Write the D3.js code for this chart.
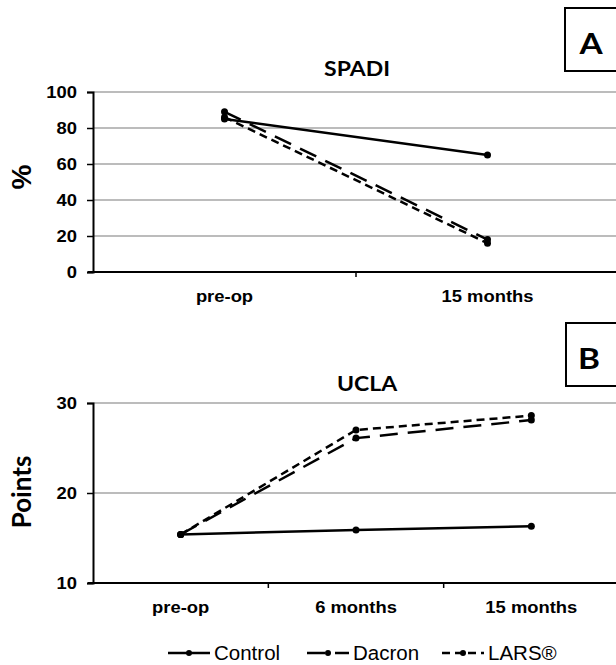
<!DOCTYPE html>
<html>
<head>
<meta charset="utf-8">
<script src="https://cdn.jsdelivr.net/npm/d3@7/dist/d3.min.js"></script>
<style>
  body { margin: 0; background: #fff; }
  svg { display: block; }
</style>
</head>
<body>
<div id="chart"></div>
<script>
// data
const spadiCats = ["pre-op", "15 months"];
const spadiControl = [85, 65];
const spadiDacron = [89, 18];
const spadiLars = [86, 16];
const spadiTicks = [0, 20, 40, 60, 80, 100];

const uclaCats = ["pre-op", "6 months", "15 months"];
const uclaControl = [15.4, 15.9, 16.3];
const uclaDacron = [15.4, 26.1, 28.1];
const uclaLars = [15.4, 27.0, 28.6];
const uclaTicks = [10, 20, 30];

const seriesNames = ["Control", "Dacron", "LARS®"];
const dashes = [null, "18,10", "8,5"];

const width = 616, height = 665;
const sx = 1.15; // the source figure is a bit stretched sideways

const svg = d3.select("#chart").append("svg")
    .attr("width", width)
    .attr("height", height);

// text helper, with the horizontal stretch
function label(g, x, y, txt, size, family, anchor) {
  return g.append("text")
    .attr("transform", "translate(" + x + "," + y + ") scale(" + sx + ",1)")
    .attr("text-anchor", anchor || "middle")
    .style("font-family", family)
    .style("font-weight", "bold")
    .style("font-size", size + "px")
    .text(txt);
}

function panel(cfg) {
  const g = svg.append("g");

  const x = d3.scaleBand().domain(cfg.cats).range([93, 619]);
  const y = d3.scaleLinear().domain(cfg.domain).range([cfg.bottom, cfg.top]);

  // gridlines
  g.append("g").selectAll("line")
    .data(cfg.ticks.slice(1))
    .enter().append("line")
    .attr("x1", 93).attr("x2", width)
    .attr("y1", d => y(d)).attr("y2", d => y(d))
    .style("stroke", "#a6a6a6")
    .style("stroke-width", 1.3);

  // y axis
  const ya = g.append("g")
    .attr("transform", "translate(93,0)")
    .call(d3.axisLeft(y).tickValues(cfg.ticks).tickSize(6).tickPadding(8));
  ya.select(".domain").style("stroke", "#000").style("stroke-width", 2);
  ya.selectAll(".tick line").style("stroke", "#000").style("stroke-width", 1.5);
  ya.selectAll(".tick text")
    .attr("transform", "scale(" + sx + ",1)")
    .style("font-family", "'Liberation Sans', Arial, sans-serif")
    .style("font-weight", "bold")
    .style("font-size", "16px")
    .style("fill", "#000");

  // x axis line and boundary ticks
  g.append("line")
    .attr("x1", 88).attr("x2", width)
    .attr("y1", cfg.bottom).attr("y2", cfg.bottom)
    .style("stroke", "#000").style("stroke-width", 2);
  g.append("g").selectAll("line")
    .data(cfg.cats.slice(1))
    .enter().append("line")
    .attr("x1", d => x(d)).attr("x2", d => x(d))
    .attr("y1", cfg.bottom).attr("y2", cfg.bottom + 5)
    .style("stroke", "#000").style("stroke-width", 1.5);

  cfg.cats.forEach(c => {
    label(g, x(c) + x.bandwidth() / 2, cfg.bottom + 30, c, 16, "'Liberation Sans', Arial, sans-serif");
  });

  // series
  const line = d3.line()
    .x((d, i) => x(cfg.cats[i]) + x.bandwidth() / 2)
    .y(d => y(d));

  cfg.series.forEach((vals, k) => {
    g.append("path")
      .datum(vals)
      .attr("d", line)
      .style("fill", "none")
      .style("stroke", "#000")
      .style("stroke-width", 2.5)
      .style("stroke-dasharray", dashes[k]);
    g.append("g").selectAll("circle")
      .data(vals)
      .enter().append("circle")
      .attr("cx", (d, i) => x(cfg.cats[i]) + x.bandwidth() / 2)
      .attr("cy", d => y(d))
      .attr("r", 3.5)
      .style("fill", "#000");
  });

  // title
  label(g, cfg.titleX, cfg.titleY, cfg.title, 20, "Lato, 'Open Sans', sans-serif");

  // y label
  g.append("text")
    .attr("transform", "translate(" + cfg.yLabelX + "," + cfg.yLabelY + ") rotate(-90)")
    .attr("text-anchor", "middle")
    .attr("dy", "0.35em")
    .style("font-family", cfg.yLabelFont)
    .style("font-weight", "bold")
    .style("font-size", cfg.yLabelSize + "px")
    .text(cfg.yLabel);

  // panel letter box
  g.append("rect")
    .attr("x", cfg.box[0]).attr("y", cfg.box[1])
    .attr("width", 70).attr("height", cfg.box[2])
    .style("fill", "#fff")
    .style("stroke", "#000")
    .style("stroke-width", 2);
  label(g, cfg.letterX, cfg.box[1] + cfg.box[2] - 17, cfg.letter, 29, "Lato, 'Open Sans', sans-serif");
}

panel({
  cats: spadiCats,
  series: [spadiControl, spadiDacron, spadiLars],
  ticks: spadiTicks,
  domain: [0, 100],
  top: 92, bottom: 272,
  title: "SPADI", titleX: 357, titleY: 76,
  yLabel: "%", yLabelX: 21, yLabelY: 177,
  yLabelFont: "'Liberation Sans', Arial, sans-serif", yLabelSize: 28,
  letter: "A", letterX: 591,
  box: [565, 8, 63]
});

panel({
  cats: uclaCats,
  series: [uclaControl, uclaDacron, uclaLars],
  ticks: uclaTicks,
  domain: [10, 30],
  top: 403, bottom: 583,
  title: "UCLA", titleX: 367, titleY: 391,
  yLabel: "Points", yLabelX: 22, yLabelY: 492,
  yLabelFont: "Lato, 'Open Sans', sans-serif", yLabelSize: 26,
  letter: "B", letterX: 589,
  box: [566, 323, 63]
});

// legend
const legendX = [168, 307, 442];
const legend = svg.append("g").attr("transform", "translate(0,653)");
seriesNames.forEach((name, k) => {
  const lg = legend.append("g").attr("transform", "translate(" + legendX[k] + ",0)");
  lg.append("line")
    .attr("x1", 0).attr("x2", 42)
    .style("stroke", "#000")
    .style("stroke-width", 2.5)
    .style("stroke-dasharray", dashes[k]);
  lg.append("circle").attr("cx", 21).attr("r", 3).style("fill", "#000");
  lg.append("text")
    .attr("x", 46)
    .attr("dy", "0.35em")
    .style("font-family", "'Liberation Sans', Arial, sans-serif")
    .style("font-size", "20.5px")
    .text(name);
});
</script>
</body>
</html>
